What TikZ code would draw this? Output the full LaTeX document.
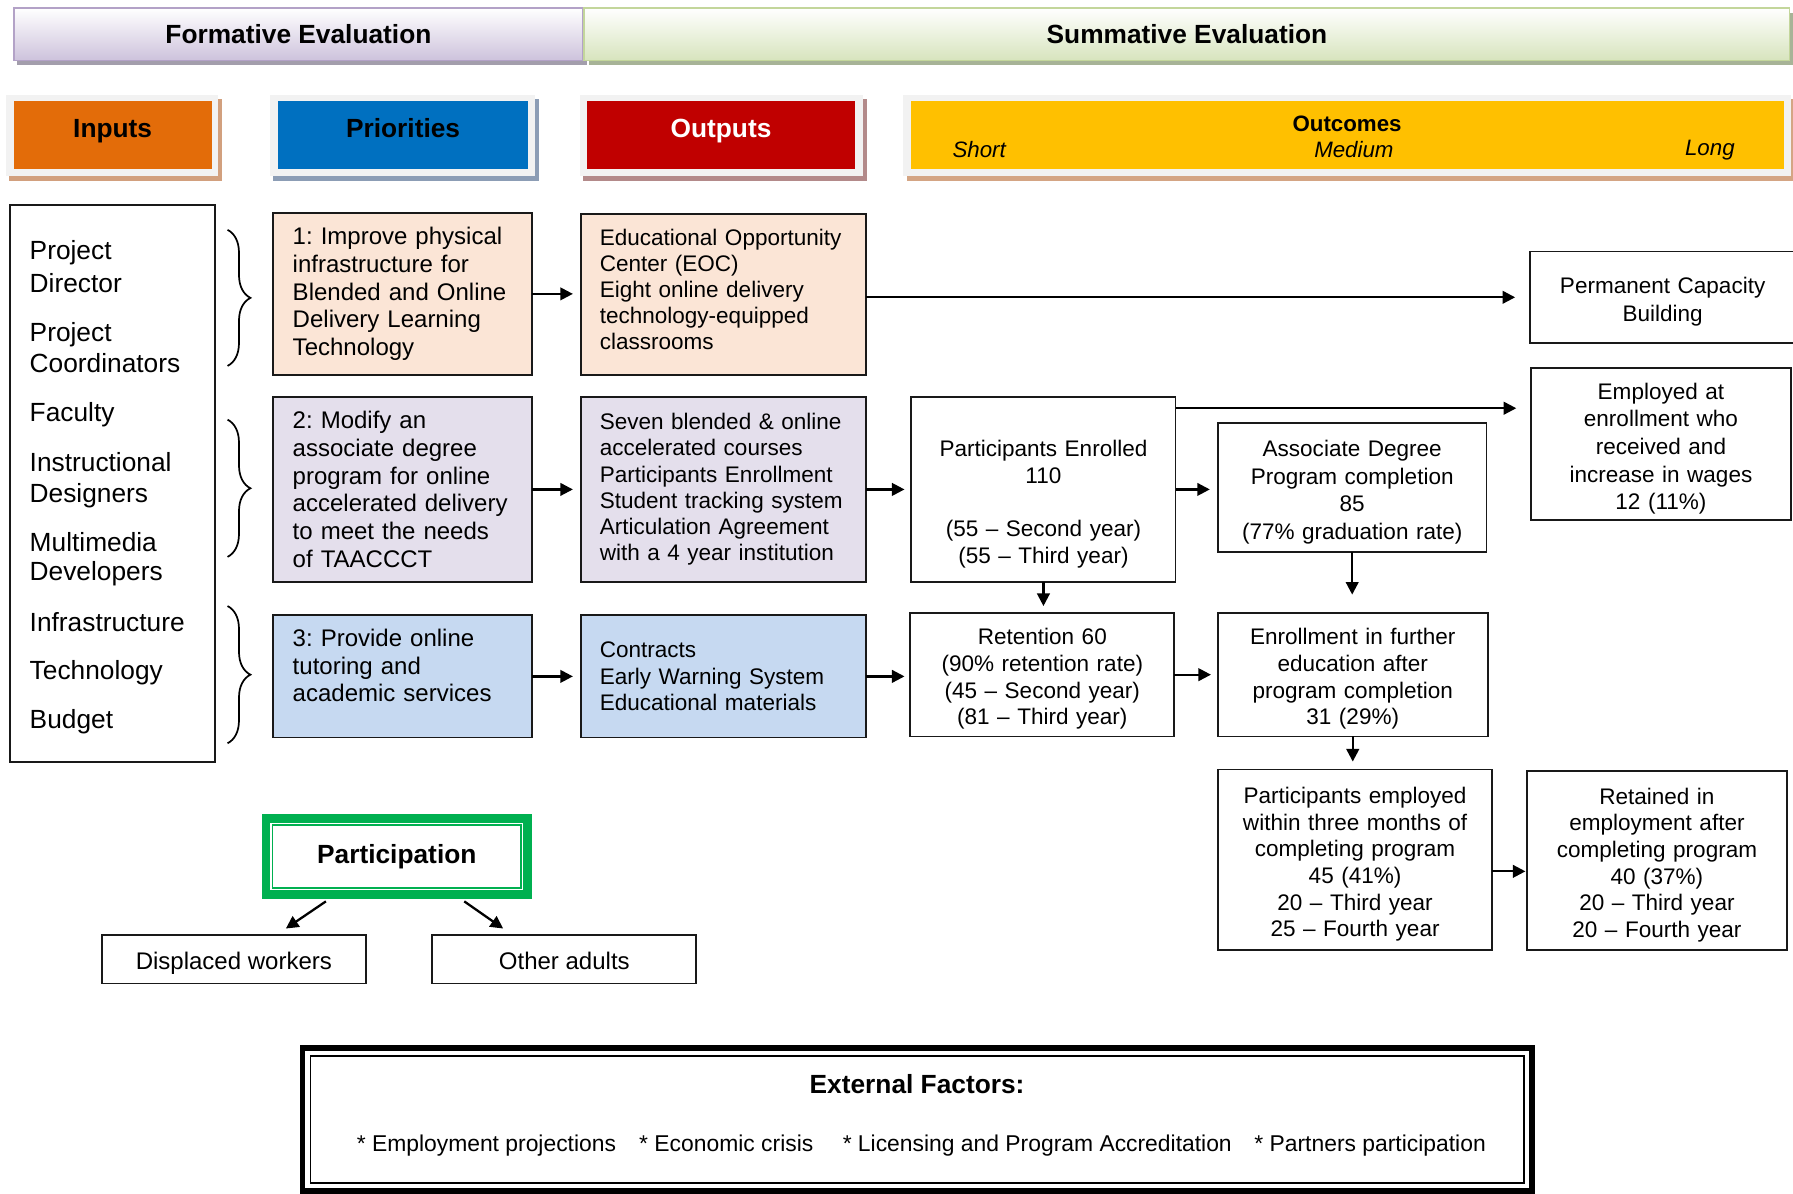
\documentclass[tikz,border=0pt]{standalone}
\usepackage{fontspec}
\setmainfont{Liberation Sans}
\usetikzlibrary{arrows.meta,decorations.pathreplacing,calc}
\definecolor{peach}{HTML}{FBE5D6}
\definecolor{lav}{HTML}{E4DFEC}
\definecolor{lblue}{HTML}{C6D9F1}
\definecolor{inorange}{HTML}{E36C09}
\definecolor{prblue}{HTML}{0070C0}
\definecolor{outred}{HTML}{C00000}
\definecolor{gold}{HTML}{FFC000}
\definecolor{pgreen}{HTML}{00B050}
\definecolor{framegray}{HTML}{F2F2F2}
\definecolor{fshadow}{HTML}{A39EAC}
\definecolor{fborder}{HTML}{B3A2C7}
\definecolor{fbottom}{HTML}{CDC2DC}
\definecolor{sshadow}{HTML}{A7B397}
\definecolor{sborder}{HTML}{C3D69B}
\definecolor{sbottom}{HTML}{D7E4BD}
\definecolor{inshadow}{HTML}{D2A07E}
\definecolor{prshadow}{HTML}{8C9DB5}
\definecolor{outshadow}{HTML}{B38A8A}
\definecolor{ocshadow}{HTML}{D4A584}
\frenchspacing
\begin{document}
\frenchspacing
\begin{tikzpicture}[x=1pt,y=-1pt,
  every node/.style={inner sep=0pt, outer sep=0pt},
  box/.style={draw=black!90, line width=1.6pt},
  ptx/.style={align=left, text width=192pt, font=\fontsize{21}{24.2}\selectfont\frenchspacing},
  ptxt/.style={box, ptx},
  otx/.style={align=left, text width=216pt, font=\fontsize{19.7}{22.9}\selectfont\frenchspacing},
  otxt/.style={box, otx},
  ctxt/.style={box, align=center, text height=22pt, font=\fontsize{19.7}{23.3}\selectfont},
  ctxtw/.style={box, align=center, text height=22pt, font=\fontsize{19.7}{24.2}\selectfont},
  arr/.style={line width=2pt,-{Triangle[length=11pt,width=11pt]}},
  hbold/.style={font=\fontsize{23}{27}\selectfont\bfseries},
  inp/.style={anchor=base west, font=\fontsize{23}{27}\selectfont},
  efac/.style={anchor=base west, font=\fontsize{20}{24}\selectfont},
  obold/.style={font=\fontsize{19.5}{23}\selectfont\bfseries},
  oital/.style={font=\fontsize{19.5}{23}\selectfont\itshape},
  brc/.style={line width=1.5pt, decorate, decoration={brace, amplitude=20pt}},
]
\useasboundingbox (0,0) rectangle (1568,1044);
\fill[white] (0,0) rectangle (1568,1044);

% ---------- evaluation bars
\fill[fshadow] (15,11) rectangle (513,57);
\node[draw=fborder, line width=1.5pt, top color=white, bottom color=fbottom,
      minimum width=498pt, minimum height=46pt, hbold] (form) at (261,30) {Formative Evaluation};
\fill[sshadow] (515,11) rectangle (1568,57);
\node[draw=sborder, line width=1.5pt, top color=white, bottom color=sbottom,
      minimum width=1054pt, minimum height=46pt, hbold] (summ) at (1038,30) {Summative Evaluation};

% ---------- column headers
\fill[inshadow] (8,87) rectangle (194,158);
\fill[framegray] (5,83) rectangle (191,154);
\node[fill=inorange, minimum width=173pt, minimum height=60pt] (hin) at (98.5,118) {};
\node[hbold, anchor=base] (hinT) at (98.5,120.5) {Inputs};

\fill[prshadow] (239,87) rectangle (471,158);
\fill[framegray] (236,83) rectangle (468,154);
\node[fill=prblue, minimum width=219pt, minimum height=60pt] (hpr) at (352.5,118) {};
\node[hbold, anchor=base] (hprT) at (352.5,120.5) {Priorities};

\fill[outshadow] (510,87) rectangle (758,158);
\fill[framegray] (507,83) rectangle (755,154);
\node[fill=outred, minimum width=235pt, minimum height=60pt] (hout) at (630.5,118) {};
\node[hbold, text=white, anchor=base] (houtT) at (630.5,120.5) {Outputs};

\fill[ocshadow] (793,87) rectangle (1568,158);
\fill[framegray] (790,83) rectangle (1566,154);
\node[fill=gold, minimum width=763pt, minimum height=60pt] (hoc) at (1178.5,118) {};
\node[obold] (hocT) at (1178,108) {Outcomes};
\node[oital, anchor=west] (hshort) at (833,131) {Short};
\node[oital] (hmed) at (1184,131) {Medium};
\node[oital, anchor=east] (hlong) at (1517,131) {Long};

% ---------- inputs list
\node[box, line width=1.8pt, minimum width=179pt, minimum height=487pt] (inbox) at (98.5,422.5) {};
\node[inp] (i1) at (26,227) {Project};
\node[inp] (i2) at (26,256) {Director};
\node[inp] (i3) at (26,299) {Project};
\node[inp] (i4) at (26,326) {Coordinators};
\node[inp] (i5) at (26,369) {Faculty};
\node[inp] (i6) at (26,412) {Instructional};
\node[inp] (i7) at (26,439) {Designers};
\node[inp] (i8) at (26,482) {Multimedia};
\node[inp] (i9) at (26,508) {Developers};
\node[inp] (i10) at (26,552) {Infrastructure};
\node[inp] (i11) at (26,594) {Technology};
\node[inp] (i12) at (26,637) {Budget};

% ---------- braces
\draw[brc] (199,201) -- (199,320);
\draw[brc] (199,367) -- (199,487);
\draw[brc] (199,530) -- (199,650);

% ---------- priorities
\node[ptxt, fill=peach, minimum width=226pt, minimum height=142pt] (p1) at (352,257)
  {1: Improve physical\\infrastructure for\\Blended and Online\\Delivery Learning\\Technology};
\node[ptxt, fill=lav, minimum width=226pt, minimum height=162pt] (p2) at (352,428)
  {2: Modify an\\associate degree\\program for online\\accelerated delivery\\to meet the needs\\of TAACCCT};
\node[box, fill=lblue, minimum width=226pt, minimum height=107pt] (p3) at (352,591.5) {};
\node[ptx, anchor=north west] (p3t) at (256,550)
  {3: Provide online\\tutoring and\\academic services};

% ---------- outputs
\node[box, fill=peach, minimum width=249pt, minimum height=141pt] (o1) at (632.5,257.5) {};
\node[otx, anchor=north west] (o1t) at (524.5,200)
  {Educational Opportunity\\Center (EOC)\\Eight online delivery\\technology-equipped\\classrooms};
\node[otxt, fill=lav, minimum width=249pt, minimum height=162pt] (o2) at (632.5,428)
  {Seven blended \& online\\accelerated courses\\Participants Enrollment\\Student tracking system\\Articulation Agreement\\with a 4 year institution};
\node[otxt, fill=lblue, minimum width=249pt, minimum height=107pt] (o3) at (632.5,591.5)
  {Contracts\\Early Warning System\\Educational materials};

% ---------- outcomes
\node[ctxt, minimum width=231pt, minimum height=162pt, text width=223pt, text height=40pt] (enr) at (912.5,428)
  {Participants Enrolled\\110\\[23.3pt](55 – Second year)\\(55 – Third year)};
\node[ctxt, minimum width=231pt, minimum height=108pt, text width=223pt] (ret) at (911.5,590)
  {Retention 60\\(90\% retention rate)\\(45 – Second year)\\(81 – Third year)};
\node[ctxtw, minimum width=235pt, minimum height=113pt, text width=227pt] (assoc) at (1182.5,426.5)
  {Associate Degree\\Program completion\\85\\(77\% graduation rate)};
\node[ctxt, minimum width=236pt, minimum height=108pt, text width=228pt] (fur) at (1183,590)
  {Enrollment in further\\education after\\program completion\\31 (29\%)};
\node[ctxt, minimum width=240pt, minimum height=158pt, text width=232pt] (emp3) at (1185,752)
  {Participants employed\\within three months of\\completing program\\45 (41\%)\\20 – Third year\\25 – Fourth year};
\node[ctxt, minimum width=228pt, minimum height=157pt, text width=220pt] (retd) at (1449,752.5)
  {Retained in\\employment after\\completing program\\40 (37\%)\\20 – Third year\\20 – Fourth year};
\node[ctxtw, minimum width=232pt, minimum height=80pt, text width=224pt] (perm) at (1454,260)
  {Permanent Capacity\\Building};
\node[ctxtw, minimum width=227pt, minimum height=133pt, text width=219pt] (empe) at (1452.5,388.5)
  {Employed at\\enrollment who\\received and\\increase in wages\\12 (11\%)};

% ---------- connectors
\draw[arr, shorten >=7pt] (p1.east) -- (p1.east -| o1.west);
\draw[arr, shorten >=7pt] (p2.east) -- (p2.east -| o2.west);
\draw[arr, shorten >=7pt] (p3.east) -- (p3.east -| o3.west);
\draw[arr, shorten >=13pt] (o1.east |- perm.west) -- (perm.west);
\draw[arr, shorten >=6pt] (o2.east) -- (o2.east -| enr.west);
\draw[arr, shorten >=5pt] (o3.east) -- (o3.east -| ret.west);
\draw[arr, shorten >=6pt] (enr.south) -- (enr.south |- ret.north);
\draw[arr, shorten >=7pt] (enr.east) -- (enr.east -| assoc.west);
\coordinate (e0) at ($(enr.north east)+(0,10)$);
\draw[arr, shorten >=13pt] (e0) -- (e0 -| empe.west);
\draw[arr, shorten >=6pt] (ret.east) -- (ret.east -| fur.west);
\draw[arr, shorten >=16pt] (assoc.south) -- (assoc.south |- fur.north);
\draw[arr, shorten >=7pt] (fur.south) -- (fur.south |- emp3.north);
\coordinate (e1) at ($(emp3.east)+(0,10)$);
\draw[arr, shorten >=1pt] (e1) -- (e1 -| retd.west);

% ---------- participation
\node[draw=pgreen, fill=white, line width=7.5pt, minimum width=228.5pt, minimum height=66.5pt, hbold] (part) at (347,749) {Participation};
\draw[pgreen, line width=1.3pt] ([xshift=5.7pt,yshift=-5.7pt]part.north west) rectangle ([xshift=-5.7pt,yshift=5.7pt]part.south east);
\node[box, minimum width=231pt, minimum height=42pt, text height=17pt, text depth=0pt, font=\fontsize{21}{25}\selectfont] (disp) at (204.5,839) {Displaced workers};
\node[box, minimum width=231pt, minimum height=42pt, text height=17pt, text depth=0pt, font=\fontsize{21}{25}\selectfont] (oth) at (493.5,839) {Other adults};
\draw[arr] ($(part.south)+(-62,6)$) -- ($(disp.north)+(45.5,-6)$);
\draw[arr] ($(part.south)+(59,6)$) -- ($(oth.north)+(-53.5,-6)$);

% ---------- external factors
\node[draw, line width=5pt, minimum width=1075pt, minimum height=125pt] (ext) at (802,979) {};
\draw[line width=1.5pt] ([xshift=7pt,yshift=-7pt]ext.north west) rectangle ([xshift=-7pt,yshift=7pt]ext.south east);
\node[hbold] (extT) at (802,948) {External Factors:};
\node[efac] (ef1) at (312,1007) {* Employment projections};
\node[efac] (ef2) at (559,1007) {* Economic crisis};
\node[efac] (ef3) at (737,1007) {* Licensing and Program Accreditation};
\node[efac] (ef4) at (1097,1007) {* Partners participation};
\end{tikzpicture}
\end{document}
